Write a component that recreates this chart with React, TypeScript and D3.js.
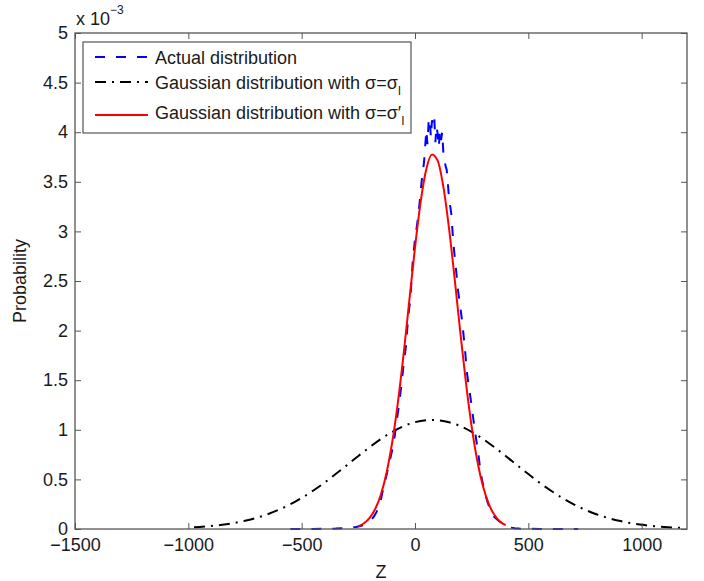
import { useEffect, useRef } from 'react';
import * as d3 from 'd3';

// x ticks / y ticks (probability in units of 1e-3)
const xTicks = [-1500, -1000, -500, 0, 500, 1000];
const yTicks = [0, 0.5, 1, 1.5, 2, 2.5, 3, 3.5, 4, 4.5, 5];

// Actual distribution (blue dashed)
const actualZ = [-550, -500, -450, -400, -350, -300, -280, -260, -240, -220, -200, -190, -180, -170, -160, -150, -140, -130, -120, -110, -100, -90, -80, -70, -60, -50, -40, -30, -20, -10, 0, 10, 20, 30, 40, 45, 50, 55, 60, 65, 70, 75, 80, 85, 90, 95, 100, 105, 110, 115, 120, 125, 130, 135, 140, 145, 150, 155, 160, 170, 180, 190, 200, 210, 220, 230, 240, 250, 260, 270, 280, 290, 300, 310, 320, 330, 340, 350, 360, 370, 380, 390, 400, 420, 440, 460, 500, 550, 600, 650, 720];
const actualP = [0, 0, 0, 0.002, 0.004, 0.01, 0.015, 0.02, 0.03, 0.05, 0.08, 0.1, 0.13, 0.17, 0.22, 0.3, 0.41, 0.5, 0.6, 0.7, 0.8, 0.93, 1.1, 1.26, 1.45, 1.66, 1.84, 2.14, 2.33, 2.7, 2.92, 3.08, 3.28, 3.52, 3.7, 3.86, 4.02, 3.88, 4.1, 4.14, 3.95, 4.12, 4.08, 4.15, 3.9, 4.06, 3.98, 3.85, 4.02, 3.92, 4.0, 3.8, 3.72, 3.66, 3.62, 3.48, 3.34, 3.26, 3.18, 2.86, 2.64, 2.4, 2.24, 2.05, 1.82, 1.56, 1.4, 1.24, 1.06, 0.9, 0.75, 0.56, 0.45, 0.35, 0.27, 0.21, 0.16, 0.12, 0.1, 0.08, 0.065, 0.05, 0.035, 0.015, 0.008, 0.004, 0.002, 0, 0, 0, 0];

// Gaussian with sigma = sigma_I (black dash-dot)
const wideZ = [-975, -950, -900, -850, -800, -750, -700, -650, -600, -550, -500, -450, -400, -350, -300, -250, -200, -150, -100, -50, 0, 50, 75, 100, 150, 200, 250, 300, 350, 400, 450, 500, 550, 600, 650, 700, 750, 800, 850, 900, 950, 1000, 1050, 1100, 1150, 1175];
const wideP = [0.0167, 0.0203, 0.0297, 0.0426, 0.06, 0.0827, 0.112, 0.149, 0.195, 0.249, 0.313, 0.386, 0.466, 0.554, 0.644, 0.736, 0.825, 0.908, 0.979, 1.037, 1.077, 1.097, 1.1, 1.097, 1.077, 1.037, 0.979, 0.908, 0.825, 0.736, 0.644, 0.554, 0.466, 0.386, 0.313, 0.249, 0.195, 0.149, 0.112, 0.0827, 0.06, 0.0426, 0.0297, 0.0203, 0.0136, 0.011];

// Gaussian with sigma = sigma'_I (red solid)
const narrowZ = [-250, -225, -200, -175, -150, -125, -100, -75, -50, -25, 0, 25, 50, 75, 100, 125, 150, 175, 200, 225, 250, 275, 300, 325, 350, 375, 400];
const narrowP = [0.028, 0.058, 0.112, 0.204, 0.351, 0.572, 0.882, 1.285, 1.769, 2.304, 2.836, 3.3, 3.63, 3.776, 3.713, 3.451, 3.033, 2.521, 1.98, 1.47, 1.032, 0.685, 0.43, 0.255, 0.143, 0.076, 0.038];

const FONT = '"Liberation Sans", Arial, Helvetica, sans-serif';
const FS = 18;

export default function App() {
	const svgRef = useRef<SVGSVGElement | null>(null);

	useEffect(() => {
		const svg = d3.select(svgRef.current);
		svg.selectAll('*').remove();

		const left = 75, right = 687, top = 33, bottom = 529;
		const x = d3.scaleLinear().domain([-1500, 1200]).range([left, right]);
		const y = d3.scaleLinear().domain([0, 5]).range([bottom, top]);
		const axisColor = '#555';
		const blueDash = '10,11';
		const blackDash = '11,6,2,6';

		svg.append('rect').attr('width', 704).attr('height', 581).attr('fill', '#fff');

		// curves
		const line = d3.line<[number, number]>().x((d) => x(d[0])).y((d) => y(d[1]));
		const smooth = d3.line<[number, number]>().x((d) => x(d[0])).y((d) => y(d[1])).curve(d3.curveMonotoneX);

		const wide = wideZ.map((z, i) => [z, wideP[i]] as [number, number]);
		const narrow = narrowZ.map((z, i) => [z, narrowP[i]] as [number, number]);
		const actual = actualZ.map((z, i) => [z, actualP[i]] as [number, number]);

		svg.append('path').attr('d', smooth(wide)).attr('fill', 'none').attr('stroke', '#000').attr('stroke-width', 2).attr('stroke-dasharray', blackDash);
		svg.append('path').attr('d', line(actual)).attr('fill', 'none').attr('stroke', '#0000ff').attr('stroke-width', 2).attr('stroke-dasharray', blueDash);
		svg.append('path').attr('d', smooth(narrow)).attr('fill', 'none').attr('stroke', '#ff0000').attr('stroke-width', 2);

		// axes, ticks pointing inward
		const styleAxis = (sel: any) => {
			sel.select('.domain').remove();
			sel.selectAll('line').attr('stroke', axisColor).attr('stroke-width', 1);
			sel.selectAll('text').attr('font-family', FONT).attr('font-size', FS).attr('fill', '#1a1a1a');
		};

		svg.append('g').attr('transform', `translate(0,${bottom})`)
			.call(d3.axisBottom(x).tickValues(xTicks).tickSize(-6).tickPadding(9).tickFormat(d3.format('d')))
			.call(styleAxis);
		svg.append('g').attr('transform', `translate(0,${top})`)
			.call(d3.axisTop(x).tickValues(xTicks).tickSize(-6).tickFormat(() => ''))
			.call(styleAxis);
		svg.append('g').attr('transform', `translate(${left},0)`)
			.call(d3.axisLeft(y).tickValues(yTicks).tickSize(-6).tickPadding(7).tickFormat((d) => String(d)))
			.call(styleAxis);
		svg.append('g').attr('transform', `translate(${right},0)`)
			.call(d3.axisRight(y).tickValues(yTicks).tickSize(-6).tickFormat(() => ''))
			.call(styleAxis);

		svg.append('rect').attr('x', left).attr('y', top).attr('width', right - left).attr('height', bottom - top)
			.attr('fill', 'none').attr('stroke', axisColor).attr('stroke-width', 1.3);

		// exponent label
		const expo = svg.append('text').attr('x', 76).attr('y', 25).attr('font-family', FONT).attr('font-size', FS).attr('fill', '#1a1a1a');
		expo.append('tspan').text('x 10');
		expo.append('tspan').attr('dy', -11).attr('font-size', 12).text('\u22123');

		// axis labels
		svg.append('text').attr('x', (left + right) / 2).attr('y', 578).attr('text-anchor', 'middle')
			.attr('font-family', FONT).attr('font-size', FS).attr('fill', '#1a1a1a').text('Z');
		svg.append('text').attr('transform', `translate(26,${(top + bottom) / 2}) rotate(-90)`).attr('text-anchor', 'middle')
			.attr('font-family', FONT).attr('font-size', FS).attr('fill', '#1a1a1a').text('Probability');

		// legend
		const legend = svg.append('g');
		legend.append('rect').attr('x', 83).attr('y', 42).attr('width', 328).attr('height', 91)
			.attr('fill', '#fff').attr('stroke', axisColor).attr('stroke-width', 1.2);

		const items = [
			{ ly: 57, ty: 63.5, color: '#0000ff', dash: blueDash, label: 'Actual distribution', prime: false, sub: false },
			{ ly: 82, ty: 88.5, color: '#000', dash: blackDash, label: 'Gaussian distribution with \u03c3=\u03c3', prime: false, sub: true },
			{ ly: 115, ty: 119, color: '#ff0000', dash: null, label: 'Gaussian distribution with \u03c3=\u03c3', prime: true, sub: true },
		];
		items.forEach((it) => {
			legend.append('line').attr('x1', 95).attr('x2', 148).attr('y1', it.ly).attr('y2', it.ly)
				.attr('stroke', it.color).attr('stroke-width', 2).attr('stroke-dasharray', it.dash);
			const t = legend.append('text').attr('x', 155).attr('y', it.ty).attr('font-family', FONT).attr('font-size', FS).attr('fill', '#1a1a1a');
			t.append('tspan').text(it.label);
			if (it.prime) t.append('tspan').text('\u2032');
			if (it.sub) {
				t.append('tspan').attr('dy', 6).attr('font-size', 12).text('I');
			}
		});

		return () => {
			svg.selectAll('*').remove();
		};
	}, []);

	return (
		<svg ref={svgRef} width={704} height={581} style={{ position: 'absolute', left: 0, top: 0, display: 'block' }} />
	);
}
